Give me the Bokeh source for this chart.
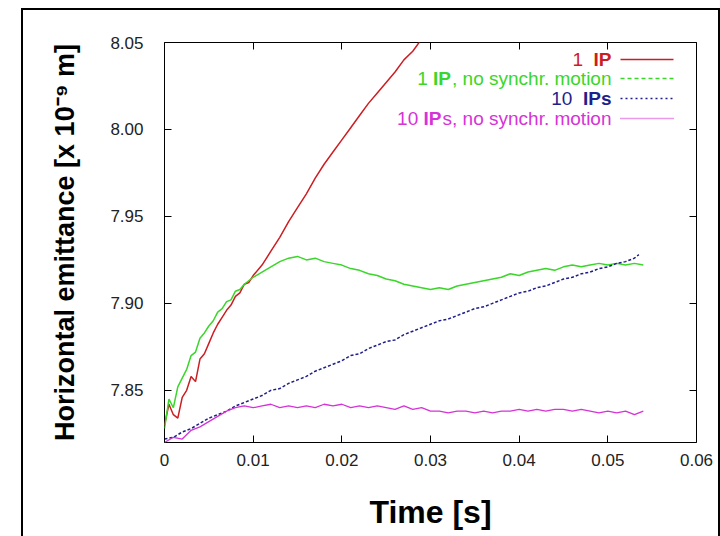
from bokeh.plotting import figure
from bokeh.models import FixedTicker, LinearAxis, CustomJSTickFormatter
from bokeh.core.properties import value
from bokeh.embed import file_html
from bokeh.resources import INLINE

# ---------------- data ----------------
t_red = [0.0000, 0.0005, 0.0010, 0.0015, 0.0020, 0.0025, 0.0030, 0.0035, 0.0040, 0.0045,
         0.0050, 0.0055, 0.0060, 0.0065, 0.0070, 0.0075, 0.0080, 0.0085, 0.0090, 0.0095,
         0.0100, 0.0110, 0.0120, 0.0130, 0.0140, 0.0150, 0.0160, 0.0170, 0.0180, 0.0190,
         0.0200, 0.0210, 0.0220, 0.0230, 0.0240, 0.0250, 0.0260, 0.0270, 0.0280, 0.0290, 0.0300]
v_red = [7.830, 7.842, 7.836, 7.834, 7.846, 7.850, 7.858, 7.855, 7.868, 7.871,
         7.877, 7.883, 7.888, 7.892, 7.896, 7.899, 7.904, 7.906, 7.911, 7.912,
         7.916, 7.922, 7.930, 7.938, 7.947, 7.955, 7.963, 7.972, 7.980, 7.987,
         7.994, 8.001, 8.008, 8.015, 8.021, 8.027, 8.033, 8.040, 8.045, 8.052, 8.058]

t_green = [0.0000, 0.0005, 0.0010, 0.0015, 0.0020, 0.0025, 0.0030, 0.0035, 0.0040, 0.0045,
           0.0050, 0.0055, 0.0060, 0.0065, 0.0070, 0.0075, 0.0080, 0.0085, 0.0090, 0.0095,
           0.010, 0.011, 0.012, 0.013, 0.014, 0.015, 0.016, 0.017, 0.018, 0.019,
           0.020, 0.021, 0.022, 0.023, 0.024, 0.025, 0.026, 0.027, 0.028, 0.029,
           0.030, 0.031, 0.032, 0.033, 0.034, 0.035, 0.036, 0.037, 0.038, 0.039,
           0.040, 0.041, 0.042, 0.043, 0.044, 0.045, 0.046, 0.047, 0.048, 0.049,
           0.050, 0.051, 0.052, 0.053, 0.054]
v_green = [7.828, 7.845, 7.840, 7.852, 7.857, 7.862, 7.870, 7.872, 7.880, 7.883,
           7.887, 7.890, 7.895, 7.897, 7.901, 7.902, 7.907, 7.908, 7.911, 7.913,
           7.915, 7.918, 7.921, 7.924, 7.926, 7.927, 7.925, 7.926, 7.924, 7.923,
           7.922, 7.920, 7.919, 7.917, 7.916, 7.914, 7.913, 7.911, 7.910, 7.909,
           7.908, 7.909, 7.908, 7.910, 7.911, 7.912, 7.913, 7.914, 7.915, 7.917,
           7.916, 7.918, 7.919, 7.920, 7.919, 7.921, 7.922, 7.921, 7.922, 7.923,
           7.922, 7.923, 7.922, 7.923, 7.922]

t_blue = [0.000, 0.001, 0.002, 0.003, 0.004, 0.005, 0.006, 0.007, 0.008, 0.009,
          0.010, 0.011, 0.012, 0.013, 0.014, 0.015, 0.016, 0.017, 0.018, 0.019,
          0.020, 0.021, 0.022, 0.023, 0.024, 0.025, 0.026, 0.027, 0.028, 0.029,
          0.030, 0.031, 0.032, 0.033, 0.034, 0.035, 0.036, 0.037, 0.038, 0.039,
          0.040, 0.041, 0.042, 0.043, 0.044, 0.045, 0.046, 0.047, 0.048, 0.049,
          0.050, 0.051, 0.052, 0.053, 0.0535]
v_blue = [7.822, 7.823, 7.826, 7.828, 7.831, 7.834, 7.836, 7.838, 7.841, 7.843,
          7.845, 7.847, 7.850, 7.851, 7.854, 7.856, 7.858, 7.861, 7.863, 7.865,
          7.867, 7.870, 7.871, 7.874, 7.876, 7.878, 7.879, 7.882, 7.884, 7.886,
          7.888, 7.890, 7.891, 7.893, 7.895, 7.897, 7.898, 7.900, 7.902, 7.904,
          7.906, 7.907, 7.909, 7.910, 7.912, 7.914, 7.915, 7.917, 7.918, 7.920,
          7.921, 7.923, 7.924, 7.926, 7.928]

t_mag = [0.000, 0.001, 0.002, 0.003, 0.004, 0.005, 0.006, 0.007, 0.008, 0.009,
         0.010, 0.011, 0.012, 0.013, 0.014, 0.015, 0.016, 0.017, 0.018, 0.019,
         0.020, 0.021, 0.022, 0.023, 0.024, 0.025, 0.026, 0.027, 0.028, 0.029,
         0.030, 0.031, 0.032, 0.033, 0.034, 0.035, 0.036, 0.037, 0.038, 0.039,
         0.040, 0.041, 0.042, 0.043, 0.044, 0.045, 0.046, 0.047, 0.048, 0.049,
         0.050, 0.051, 0.052, 0.053, 0.054]
v_mag = [7.820, 7.823, 7.822, 7.827, 7.829, 7.832, 7.835, 7.838, 7.840, 7.841,
         7.840, 7.841, 7.842, 7.840, 7.841, 7.840, 7.841, 7.840, 7.842, 7.841,
         7.842, 7.840, 7.841, 7.840, 7.841, 7.840, 7.839, 7.841, 7.839, 7.840,
         7.838, 7.838, 7.837, 7.838, 7.838, 7.837, 7.838, 7.837, 7.838, 7.838,
         7.839, 7.838, 7.839, 7.838, 7.839, 7.839, 7.838, 7.839, 7.838, 7.837,
         7.838, 7.837, 7.838, 7.836, 7.838]

x_ticks = [0.0, 0.01, 0.02, 0.03, 0.04, 0.05, 0.06]
y_ticks = [7.85, 7.90, 7.95, 8.00, 8.05]

x_label = "Time [s]"
y_label = "Horizontal emittance [x 10\u207b\u2079 m]"

# legend: (colour, [(segment, bold)], dash)
legend_rows = [
    ("#cc1e22", [("1  ", False), ("IP", True)], "solid"),
    ("#3ad62a", [("1 ", False), ("IP", True), (", no synchr. motion", False)], "4 3"),
    ("#1f1f8c", [("10  ", False), ("IPs", True)], "2 3"),
    ("#d633d6", [("10 ", False), ("IP", True), ("s, no synchr. motion", False)], "1 1"),
]

# ---------------- layout ----------------
W, H = 720, 536
FL, FR, FT, FB = 164, 24, 42, 94
XMIN, XMAX = 0.0, 0.06
YMIN, YMAX = 7.82, 8.05
FW, FH = W - FL - FR, H - FT - FB
FONT = "Liberation Sans"

p = figure(width=W, height=H, x_range=(XMIN, XMAX), y_range=(YMIN, YMAX),
           output_backend="svg", toolbar_location=None,
           min_border_left=FL, min_border_right=FR, min_border_top=FT, min_border_bottom=FB)
p.grid.visible = False
p.outline_line_color = "black"
p.outline_line_width = 1
p.background_fill_color = "white"
p.border_fill_color = None
# outer black frame of the picture, drawn as the element's background
p.styles = {
    "background-color": "white",
    "background-image": "linear-gradient(#000,#000), linear-gradient(#000,#000), linear-gradient(#000,#000)",
    "background-repeat": "no-repeat",
    "background-size": "2px 100%, 100% 2px, 2px 100%",
    "background-position": "21px 8px, 21px 8px, 718px 8px",
}

xa = p.xaxis[0]
ya = p.yaxis[0]
xa.ticker = FixedTicker(ticks=x_ticks)
ya.ticker = FixedTicker(ticks=y_ticks)
xa.formatter = CustomJSTickFormatter(code="return tick == 0 ? '0' : tick.toFixed(2)")
ya.formatter = CustomJSTickFormatter(code="return tick.toFixed(2)")
for ax in (xa, ya):
    ax.major_tick_in = 7
    ax.major_tick_out = 0
    ax.minor_tick_line_color = None
    ax.axis_line_color = None
    ax.major_tick_line_color = "black"
    ax.major_label_text_font = FONT
    ax.major_label_text_font_size = "17px"
    ax.major_label_text_color = "#222222"
    ax.axis_label_text_font = FONT
    ax.axis_label_text_font_style = "bold"
    ax.axis_label_text_color = "black"
xa.major_label_standoff = 11
ya.major_label_standoff = 21
xa.axis_label = x_label
ya.axis_label = y_label
xa.axis_label_text_font_size = "32px"
ya.axis_label_text_font_size = "27px"
xa.axis_label_standoff = 25
ya.axis_label_standoff = 27

# mirrored tick marks on top and right (no labels)
for loc, tick_list in (("above", x_ticks), ("right", y_ticks)):
    m = LinearAxis(ticker=FixedTicker(ticks=tick_list),
                   formatter=CustomJSTickFormatter(code="return ''"))
    m.major_tick_in = 7
    m.major_tick_out = 0
    m.minor_tick_line_color = None
    m.axis_line_color = None
    m.major_label_standoff = 0
    p.add_layout(m, loc)

# curves
p.line(t_red, v_red, line_color="#cc1e22", line_width=1.5)
p.line(t_green, v_green, line_color="#3ad62a", line_width=1.5)
p.line(t_blue, v_blue, line_color="#1f1f8c", line_width=1.5, line_dash="3 2")
p.line(t_mag, v_mag, line_color="#d633d6", line_width=1.3)

# legend drawn by hand (mixed bold / normal)
REG = {' ': 278, ',': 278, '.': 278, '0': 556, '1': 556, 'I': 278, 'P': 667, 'c': 500,
       'h': 556, 'i': 222, 'm': 833, 'n': 556, 'o': 556, 'r': 333, 's': 500, 't': 278, 'y': 500}
BLD = {'I': 278, 'P': 667, 's': 556}
LSIZE = 19


def seg_w(s, bold):
    return sum((BLD.get(c, REG[c]) if bold else REG[c]) for c in s) / 1000.0 * LSIZE


dx = (XMAX - XMIN) / FW
dy = (YMAX - YMIN) / FH
text_right_px = 611 - FL
line_l_px, line_r_px = 620 - FL, 673 - FL
row_px = [59, 78, 98, 118]
for (col, segs, dash), rp in zip(legend_rows, row_px):
    yy = YMAX - (rp - FT) * dy
    right = text_right_px
    for s, b in reversed(segs):
        p.text(x=[XMIN + right * dx], y=[yy], text=[s], text_align="right", text_baseline="middle",
               text_font=value(FONT), text_font_size=f"{LSIZE}px",
               text_font_style="bold" if b else "normal", text_color=col)
        right -= seg_w(s, b)
    p.line([XMIN + line_l_px * dx, XMIN + line_r_px * dx], [yy, yy], line_color=col,
           line_width=1.3, line_dash=dash)

open("out.html", "w").write(file_html(p, INLINE))
